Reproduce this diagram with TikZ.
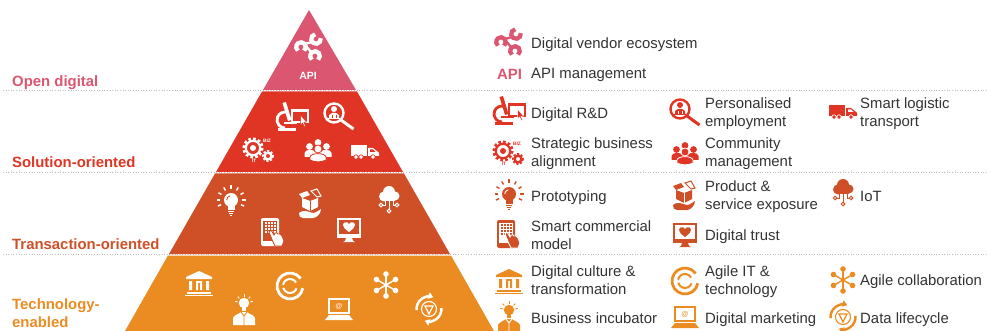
\documentclass[tikz,border=0pt]{standalone}
\usepackage{fontspec}
\setmainfont{Liberation Sans}
\usepackage{xcolor}
\usepackage{tikz}
\usetikzlibrary{arrows.meta}

\definecolor{openpink}{HTML}{DB5670}
\definecolor{solutionred}{HTML}{E03424}
\definecolor{transrust}{HTML}{CF4F27}
\definecolor{techorange}{HTML}{EB8C23}
\definecolor{itemgrey}{HTML}{333333}

\tikzset{
  itemtext/.style={anchor=base west, align=left, inner sep=0pt, text=itemgrey, font=\fontsize{14.9}{18}\selectfont},
  leveltext/.style={anchor=base west, align=left, inner sep=0pt, font=\fontsize{14.9}{18}\selectfont\bfseries},
  levelline/.style={black!25, line width=0.6pt, dotted},
  tinytext/.style={inner sep=0pt, text=fgc, font=\fontsize{4.8}{5}\selectfont\bfseries},
  ecoicon/.pic={
    \draw[fgc, line width=4.2pt] (-8,-1) ++(50:4.8) arc[start angle=50, end angle=-230, radius=4.8];
    \draw[fgc, line width=4.2pt] (7,-9) ++(-10:4.8) arc[start angle=-10, end angle=260, radius=4.8];
    \draw[fgc, line width=4.2pt] (6,8) ++(50:4.8) arc[start angle=50, end angle=-230, radius=4.8];
    \draw[fgc, line width=2.4pt] (-4,-4) -- (3,-6) (-3,-2) -- (2,4);
  },
  microicon/.pic={
    \draw[fgc, line width=2.8pt] (-7,3) ++(-70:8) arc[start angle=-70, end angle=-270, radius=8];
    \fill[fgc] (-14,11.5) rectangle (4,14.5);
    \fill[fgc] (-8,5) rectangle (5,7);
    \fill[fgc] (-9.5,-14) -- (-6,-15) -- (-0.5,3) -- (-4,4) -- cycle;
    \draw[fgc, line width=1.2pt] (0,-7) rectangle (16,5);
    \fill[fgc] (0,-7) rectangle (16,-4.5);
    \fill[fgc, draw=bgc, line width=0.5pt] (8.5,-2) -- (8.5,8) -- (10.5,6) -- (12.5,10) -- (13.5,9) -- (12,5.5) -- (14.5,5) -- cycle;
  },
  magicon/.pic={
    \draw[fgc, line width=2.4pt] (-4,-3) circle[radius=9.5];
    \draw[fgc, line width=3pt] (3,4) -- (15.5,13);
    \fill[fgc] (-4,-7) circle[radius=3];
    \fill[fgc] (-10,2) rectangle (2,3.5);
    \fill[fgc] (-9,2) -- (-9,-1) -- (-6,-3) -- (-2,-3) -- (1,-1) -- (1,2) -- cycle;
    \draw[bgc, line width=0.6pt] (-6,-1) -- (-6,2) (-2,-1) -- (-2,2);
  },
  gearicon/.pic={
    \draw[fgc, line width=2.8pt, dash pattern=on 2.6pt off 2.2pt] (-4,-2) circle[radius=9.2];
    \draw[fgc, line width=2.2pt] (-4,-2) circle[radius=7.2];
    \fill[fgc] (-4,-2) circle[radius=3];
    \draw[fgc, line width=2pt, dash pattern=on 2pt off 1.7pt] (11,6) circle[radius=5];
    \draw[fgc, line width=2.4pt] (11,6) circle[radius=3.4];
    \node[tinytext] (biz) at (10,-9) {BIZ};
    \node[tinytext] (it) at (-3,11) {IT};
  },
  peopleicon/.pic={
    \fill[fgc] (-8.5,-3.5) circle[radius=3.4] (8.5,-3.5) circle[radius=3.4] (0,-7.5) circle[radius=3.4];
    \fill[fgc] (-13.5,7) -- (-13.5,3) .. controls (-13,-1) and (-4,-1) .. (-3,2) -- (3,2) .. controls (4,-1) and (13,-1) .. (13.5,3) -- (13.5,7) -- cycle;
    \fill[fgc, draw=bgc, line width=0.8pt] (0,-1) circle[radius=4];
    \fill[fgc, draw=bgc, line width=0.8pt] (-8,10) -- (-8,7) .. controls (-7,2.5) and (7,2.5) .. (8,7) -- (8,10) .. controls (3,12.5) and (-3,12.5) .. (-8,10) -- cycle;
  },
  truckicon/.pic={
    \fill[fgc] (-14,-7) rectangle (2,4);
    \fill[fgc] (3,-4) -- (8,-4) -- (13,0) -- (14,1) -- (14,4) -- (3,4) -- cycle;
    \fill[bgc] (5,-2.5) -- (8,-2.5) -- (10.5,0) -- (5,0) -- cycle;
    \foreach \wx in {-9,-4,8}
      \fill[fgc, draw=bgc, line width=0.7pt] (\wx,5) circle[radius=2.2];
  },
  bulbicon/.pic={
    \fill[fgc] (0,-1) circle[radius=7];
    \fill[fgc] (-3.5,3) rectangle (3.5,9);
    \draw[bgc, line width=0.9pt] (-4.3,-1) arc[start angle=180, end angle=260, radius=4.3];
    \draw[fgc, line width=1.2pt] (-3,10.5) -- (3,10.5) (-2.2,12.5) -- (2.2,12.5) (-1,14.5) -- (1,14.5);
    \foreach \ang in {-180,-150,-120,-90,-60,-30,0,25,155}
      \draw[fgc, line width=1.4pt] (0,-1) ++(\ang:11) -- ++(\ang:3.5);
  },
  boxicon/.pic={
    \fill[fgc] (-8,-5) -- (0,-2) -- (8,-5) -- (8,4) -- (0,8) -- (-8,4) -- cycle;
    \draw[bgc, line width=0.8pt] (0,-2) -- (0,8);
    \fill[fgc] (-11,-9) -- (-3,-12) -- (0,-8) -- (-8,-5) -- cycle;
    \draw[fgc, line width=1pt, fill=bgc] (1,-12) -- (7,-14) -- (11,-7) -- (7,-6) -- cycle;
    \fill[fgc] (-11,10) .. controls (-8,7) and (-3,8) .. (-1,9) -- (3,10) .. controls (6,10) and (9,7) .. (11,6) .. controls (11,10) and (7,15) .. (3,15) -- (-7,15) .. controls (-10,15) and (-11,13) .. (-11,10) -- cycle;
  },
  cloudicon/.pic={
    \fill[fgc] (-5,-3.5) circle[radius=5] (0,-8) circle[radius=6] (6,-4) circle[radius=4.5];
    \fill[fgc] (-5,-5) rectangle (6,1);
    \draw[fgc, line width=1pt] (0,1) -- (0,9) (-4,1) -- (-4,5) -- (-6,5) (4,1) -- (4,5) -- (6,5);
    \draw[fgc, line width=1pt] (0,11) circle[radius=1.8] (-8,5) circle[radius=1.8] (8,5) circle[radius=1.8];
  },
  tableticon/.pic={
    \fill[fgc, rounded corners=2pt] (-11,-14) rectangle (7,14);
    \fill[bgc] (-9,-11) rectangle (5,9);
    \foreach \gx in {-6,-3,0,3}
      \foreach \gy in {-9,-6,-3,0}
        \fill[fgc] (\gx-1,\gy-1) rectangle (\gx+1,\gy+1);
    \fill[fgc, draw=bgc, line width=0.9pt] (-3,0) -- (-1,-2) -- (2,3) -- (3,1) -- (5,1) -- (6,2) -- (8,2) -- (10,4) -- (12,9) -- (10,14) -- (3,14) -- (1,10) -- cycle;
  },
  monitoricon/.pic={
    \fill[fgc] (-12,-11) rectangle (12,9);
    \fill[bgc] (-10,-9) rectangle (10,5);
    \fill[fgc] (0,3) .. controls (-4,0) and (-6,-2) .. (-6,-4) .. controls (-6,-7) and (-2,-8) .. (0,-5) .. controls (2,-8) and (6,-7) .. (6,-4) .. controls (6,-2) and (4,0) .. (0,3) -- cycle;
    \fill[fgc] (-3,9) -- (3,9) -- (4,12) -- (6,13) -- (-6,13) -- (-4,12) -- cycle;
  },
  bankicon/.pic={
    \fill[fgc] (-13,-6) -- (0,-12) -- (13,-6) -- (13,-4) -- (-13,-4) -- cycle;
    \fill[fgc] (-10,-2) rectangle (-7,7) (-3,-2) rectangle (-1,7) (1,-2) rectangle (3,7) (7,-2) rectangle (10,7);
    \fill[fgc] (-3,-2) rectangle (3,0);
    \fill[fgc] (-12,9) rectangle (12,10.5);
    \fill[fgc] (-14,12) rectangle (14,13);
  },
  agileicon/.pic={
    \draw[fgc, line width=2.8pt] (0,0) ++(10:13) arc[start angle=10, end angle=325, radius=13];
    \draw[fgc, line width=2pt] (0,0) ++(20:7) arc[start angle=20, end angle=165, radius=7];
    \draw[fgc, line width=2pt] (0,0) ++(-170:7) arc[start angle=-170, end angle=-30, radius=7];
  },
  personicon/.pic={
    \fill[fgc] (0,-7) circle[radius=5.2];
    \fill[fgc] (-2,-3) rectangle (2,1);
    \foreach \ang in {-170,-135,-90,-45,-10}
      \draw[fgc, line width=0.9pt] (0,-7) ++(\ang:6.5) -- ++(\ang:2.5);
    \fill[fgc] (-11,15) -- (-11,8) .. controls (-10,5) and (-5,4) .. (-3,2) -- (3,2) .. controls (5,4) and (10,5) .. (11,8) -- (11,15) -- cycle;
    \draw[bgc, line width=0.9pt] (-3,2) -- (0,6) -- (3,2) (0,6) -- (0,15);
  },
  laptopicon/.pic={
    \fill[fgc] (-11,-11) rectangle (11,5);
    \fill[bgc] (-9,-9) rectangle (9,3);
    \fill[fgc] (-10,6) -- (10,6) -- (14,11) -- (-14,11) -- cycle;
    \node[tinytext, font=\fontsize{7}{8}\selectfont] (at) at (0,-3) {@};
  },
  collabicon/.pic={
    \foreach \ang in {90,30,-30,-90,-150,150} {
      \draw[fgc, line width=1.4pt] (0,0) -- (\ang:11);
      \fill[fgc] (\ang:11) circle[radius=2.8];
    }
    \fill[fgc] (0,0) circle[radius=1.8];
  },
  lifeicon/.pic={
    \draw[fgc, line width=2.4pt, -{Triangle[length=5pt,width=6.5pt]}] (0,0) ++(175:12.5) arc[start angle=175, end angle=290, radius=12.5];
    \draw[fgc, line width=2.4pt, -{Triangle[length=5pt,width=6.5pt]}] (0,0) ++(-5:12.5) arc[start angle=-5, end angle=110, radius=12.5];
    \draw[fgc, line width=1.1pt] (0,0) circle[radius=7.5];
    \draw[fgc, line width=1.3pt] (-4,-3) -- (4,-3) -- (0,5) -- cycle;
  }
}

\begin{document}
\begin{tikzpicture}[x=1pt, y=-1pt]
  \useasboundingbox (0,0) rectangle (987,331);
  % levels
  \draw[levelline] (3,90.5) -- (987,90.5);
  \draw[levelline] (3,172.5) -- (987,172.5);
  \draw[levelline] (3,254.5) -- (987,254.5);
  \fill[openpink] (309,10) -- (356,90) -- (263,90) -- cycle;
  \fill[solutionred] (262,91.5) -- (357,91.5) -- (403,172) -- (216,172) -- cycle;
  \fill[transrust] (215,173.5) -- (404,173.5) -- (450,254) -- (169,254) -- cycle;
  \fill[techorange] (168,255.5) -- (451,255.5) -- (494,331) -- (125,331) -- cycle;

  \node[leveltext, text=openpink] (open) at (12,86.5) {Open digital};
  \node[leveltext, text=solutionred] (solution) at (12,167.5) {Solution-oriented};
  \node[leveltext, text=transrust] (transaction) at (12,249.5) {Transaction-oriented};
  \node[leveltext, text=techorange] (technology) at (12,327.5) {Technology-\\enabled};
  \node[font=\fontsize{10.5}{12}\selectfont\bfseries, text=white, inner sep=0pt] (apiwhite) at (308,76) {API};
  \node[font=\fontsize{14.9}{16}\selectfont\bfseries, text=openpink, inner sep=0pt] (apipink) at (509.5,74) {API};

  % icons
  \foreach \icon/\x/\y/\fg/\bg in {
    ecoicon/309/48/white/openpink, ecoicon/509/43/openpink/white,
    microicon/292/117/white/solutionred, microicon/509/111/solutionred/white,
    magicon/338/116/white/solutionred, magicon/684/112/solutionred/white,
    gearicon/257/150/white/solutionred, gearicon/507/153/solutionred/white,
    peopleicon/318/150/white/solutionred, peopleicon/685/153/solutionred/white,
    truckicon/365/152/white/solutionred, truckicon/843/112/solutionred/white,
    bulbicon/231/201/white/transrust, bulbicon/509/195/transrust/white,
    boxicon/310/203/white/transrust, boxicon/684/195/transrust/white,
    cloudicon/389/200/white/transrust, cloudicon/843/193/transrust/white,
    tableticon/272/232/white/transrust, tableticon/508/234/transrust/white,
    monitoricon/349/229/white/transrust, monitoricon/685/234/transrust/white,
    bankicon/199/283/white/techorange, bankicon/509/281/techorange/white,
    personicon/244/310/white/techorange, personicon/509/317/techorange/white,
    agileicon/290/286/white/techorange, agileicon/685/281/techorange/white,
    laptopicon/339/309/white/techorange, laptopicon/685/317/techorange/white,
    collabicon/386/285/white/techorange, collabicon/843/280/techorange/white,
    lifeicon/429/309/white/techorange, lifeicon/843/317/techorange/white} {
    \colorlet{fgc}{\fg}
    \colorlet{bgc}{\bg}
    \pic (\icon\x) at (\x,\y) {\icon};
  }

  % items
  \node[itemtext] (vendor) at (531,49) {Digital vendor ecosystem};
  \node[itemtext] (apimgmt) at (531,79) {API management};
  \node[itemtext] (rnd) at (531,118.5) {Digital R\&D};
  \node[itemtext] (employment) at (705,127) {Personalised\\employment};
  \node[itemtext] (logistic) at (860,127) {Smart logistic\\transport};
  \node[itemtext] (strategic) at (531,167) {Strategic business\\alignment};
  \node[itemtext] (community) at (705,167) {Community\\management};
  \node[itemtext] (proto) at (531,201) {Prototyping};
  \node[itemtext] (product) at (705,209.5) {Product \&\\service exposure};
  \node[itemtext] (iot) at (860,201) {IoT};
  \node[itemtext] (commercial) at (531,249) {Smart commercial\\model};
  \node[itemtext] (trust) at (705,240) {Digital trust};
  \node[itemtext] (culture) at (531,294.5) {Digital culture \&\\transformation};
  \node[itemtext] (agileit) at (705,294.5) {Agile IT \&\\technology};
  \node[itemtext] (collab) at (860,285.5) {Agile collaboration};
  \node[itemtext] (incubator) at (531,323) {Business incubator};
  \node[itemtext] (marketing) at (705,323) {Digital marketing};
  \node[itemtext] (lifecycle) at (860,323) {Data lifecycle};
\end{tikzpicture}
\end{document}
